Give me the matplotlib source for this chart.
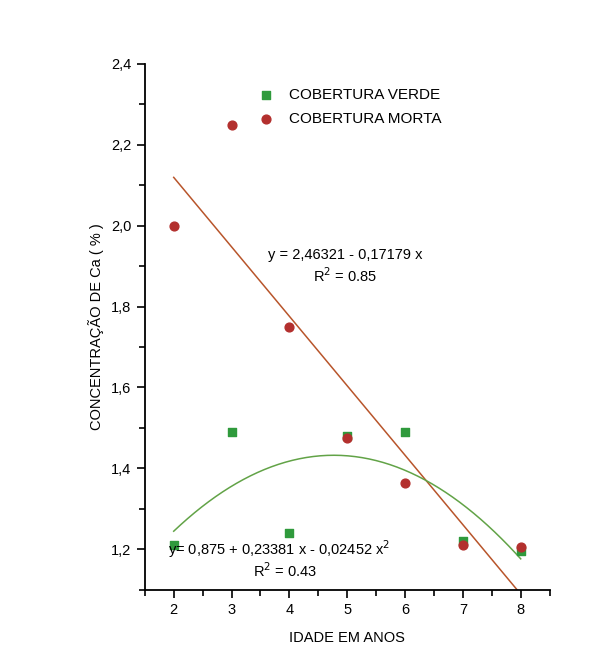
import numpy as np
import matplotlib.pyplot as plt
from matplotlib.ticker import MultipleLocator, FuncFormatter

plt.rcParams['font.family'] = ['Liberation Sans', 'DejaVu Sans']

# idade (anos) e teor de Ca (%)
idade = [2, 3, 4, 5, 6, 7, 8]
ca_verde = [1.21, 1.49, 1.24, 1.48, 1.49, 1.22, 1.195]
idade_morta = [2, 3, 4, 5, 6, 7, 8]
ca_morta = [2.00, 2.25, 1.75, 1.475, 1.365, 1.21, 1.205]

# coeficientes das regressões
lin_a, lin_b = 2.46321, -0.17179
quad_a, quad_b, quad_c = 0.875, 0.23381, -0.02452

fig = plt.figure(figsize=(5.91, 6.53), dpi=100)
ax = fig.add_axes([0.245, 0.097, 0.685, 0.805])

ax.scatter(idade, ca_verde, marker='s', s=28, color='#2f9a3c', zorder=3,
           label='COBERTURA VERDE')
ax.scatter(idade_morta, ca_morta, marker='o', s=40, color='#b3302e', zorder=3,
           label='COBERTURA MORTA')

xs = np.linspace(2, 8, 200)
ax.plot(xs, lin_a + lin_b * xs, color='#b8552b', lw=1.1, zorder=2)
ax.plot(xs, quad_a + quad_b * xs + quad_c * xs ** 2, color='#62a347', lw=1.1, zorder=2)

ax.set_xlim(1.5, 8.5)
ax.set_ylim(1.1, 2.4)
ax.xaxis.set_major_locator(MultipleLocator(1))
ax.xaxis.set_minor_locator(MultipleLocator(0.5))
ax.yaxis.set_major_locator(MultipleLocator(0.2))
ax.yaxis.set_minor_locator(MultipleLocator(0.1))
ax.yaxis.set_major_formatter(FuncFormatter(lambda v, p: f'{v:.1f}'.replace('.', ',')))
ax.tick_params(which='both', direction='out', width=1.2, labelsize=10.5)
ax.tick_params(which='major', length=6)
ax.tick_params(which='minor', length=4)
ax.set_xticks([2, 3, 4, 5, 6, 7, 8])

for side in ('top', 'right'):
    ax.spines[side].set_visible(False)
for side in ('left', 'bottom'):
    ax.spines[side].set_linewidth(1.3)

ax.set_xlabel('IDADE EM ANOS', fontsize=10.5, labelpad=10)
ax.set_ylabel('CONCENTRAÇÃO DE Ca ( % )', fontsize=10.5, labelpad=5)

ax.legend(loc='upper left', bbox_to_anchor=(0.235, 0.975), frameon=False,
          fontsize=11, handletextpad=0.5, labelspacing=0.65, borderpad=0.2,
          markerscale=1.0)

ax.text(4.96, 1.927, 'y = 2,46321 - 0,17179 x', fontsize=10.5, ha='center', va='center')
ax.text(4.96, 1.876, 'R$^2$ = 0.85', fontsize=10.5, ha='center', va='center')
ax.text(1.9, 1.2, 'y= 0,875 + 0,23381 x - 0,02452 x$^2$', fontsize=10.5,
        ha='left', va='center')
ax.text(3.93, 1.148, 'R$^2$ = 0.43', fontsize=10.5, ha='center', va='center')

fig.savefig('out.png', dpi=100)
